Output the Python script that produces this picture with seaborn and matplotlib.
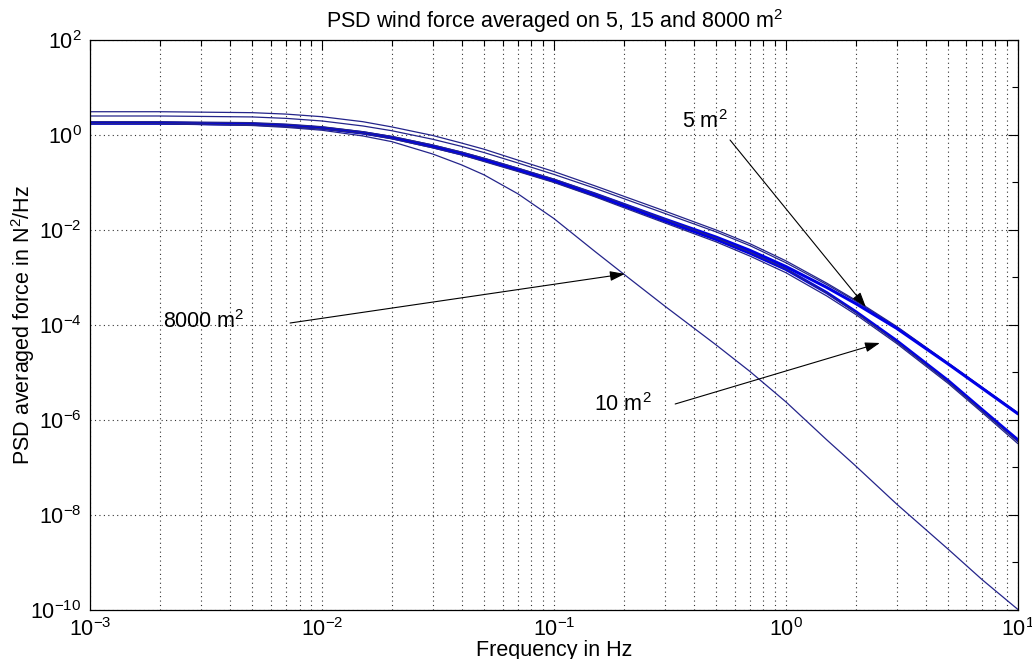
import numpy as np
import pandas as pd
import matplotlib
matplotlib.use('Agg')
import matplotlib.pyplot as plt
import matplotlib.ticker as mticker
import seaborn as sns

freq_hz = [0.001, 0.002, 0.005, 0.007, 0.01, 0.015, 0.02, 0.03, 0.04, 0.05, 0.07, 0.1,
           0.15, 0.2, 0.3, 0.5, 0.7, 1, 1.5, 2, 3, 5, 7, 10]

# log10 of PSD of the averaged force (N^2/Hz)
log_psd_5m2_a = [0.49, 0.49, 0.47, 0.44, 0.385, 0.28, 0.17, -0.01, -0.17, -0.30, -0.53, -0.77,
                 -1.07, -1.29, -1.60, -2.00, -2.29, -2.65, -3.12, -3.48, -4.03, -4.80, -5.31, -5.85]
log_psd_5m2_b = [0.40, 0.40, 0.38, 0.35, 0.295, 0.19, 0.09, -0.09, -0.24, -0.37, -0.59, -0.83,
                 -1.12, -1.34, -1.65, -2.04, -2.33, -2.69, -3.15, -3.50, -4.05, -4.81, -5.32, -5.86]
log_psd_5m2_c = [0.25, 0.25, 0.23, 0.20, 0.15, 0.05, -0.05, -0.23, -0.38, -0.51, -0.72, -0.95,
                 -1.24, -1.46, -1.77, -2.15, -2.43, -2.77, -3.21, -3.55, -4.07, -4.82, -5.33, -5.87]
log_psd_10m2_a = [0.25, 0.25, 0.225, 0.195, 0.14, 0.04, -0.06, -0.25, -0.40, -0.53, -0.74, -0.97,
                  -1.27, -1.49, -1.81, -2.20, -2.49, -2.83, -3.32, -3.72, -4.33, -5.17, -5.78, -6.42]
log_psd_10m2_b = [0.28, 0.28, 0.26, 0.23, 0.175, 0.07, -0.03, -0.21, -0.36, -0.49, -0.70, -0.93,
                  -1.23, -1.45, -1.77, -2.17, -2.47, -2.82, -3.33, -3.74, -4.36, -5.20, -5.81, -6.46]
log_psd_10m2_c = [0.24, 0.24, 0.215, 0.185, 0.13, 0.03, -0.08, -0.27, -0.42, -0.56, -0.77, -1.00,
                  -1.30, -1.53, -1.85, -2.25, -2.55, -2.90, -3.39, -3.78, -4.39, -5.23, -5.84, -6.50]
log_psd_8000m2 = [0.24, 0.24, 0.20, 0.16, 0.10, -0.02, -0.14, -0.40, -0.63, -0.84, -1.24, -1.76,
                  -2.45, -2.93, -3.60, -4.42, -4.98, -5.62, -6.42, -6.97, -7.77, -8.72, -9.36, -9.99]

curves = {
    '5a': log_psd_5m2_a, '5b': log_psd_5m2_b, '5c': log_psd_5m2_c,
    '10a': log_psd_10m2_a, '10b': log_psd_10m2_b, '10c': log_psd_10m2_c,
    '8000': log_psd_8000m2,
}
thick = {'5c', '10a'}

sns.set_style('white')
plt.rcParams['font.family'] = ['Liberation Sans', 'DejaVu Sans']
plt.rcParams['mathtext.fontset'] = 'custom'
plt.rcParams['mathtext.rm'] = 'Liberation Sans'
plt.rcParams['mathtext.it'] = 'Liberation Sans'
plt.rcParams['mathtext.default'] = 'regular'
plt.rcParams['axes.unicode_minus'] = False
for key in ['text.color', 'axes.labelcolor', 'xtick.color', 'ytick.color']:
    plt.rcParams[key] = 'black'

fig = plt.figure(figsize=(10.32, 6.59), dpi=100)
ax = fig.add_axes([0.0872, 0.0744, 0.8992, 0.8649])
ax.set(xscale='log', yscale='log')

for name, logs in curves.items():
    df = pd.DataFrame({'f': freq_hz, 'psd': 10.0 ** np.array(logs)})
    if name in thick:
        sns.lineplot(data=df, x='f', y='psd', ax=ax, color='#0000e6', linewidth=2.2, sort=False)
    else:
        sns.lineplot(data=df, x='f', y='psd', ax=ax, color='#24248a', linewidth=0.9, sort=False)

ax.set_xlim(1e-3, 1e1)
ax.set_ylim(1e-10, 1e2)

ax.set_yticks([10.0 ** k for k in range(-10, 3, 2)])
ax.set_yticks([10.0 ** k for k in range(-9, 2, 2)], minor=True)
ax.yaxis.set_minor_formatter(mticker.NullFormatter())
ax.xaxis.set_major_locator(mticker.LogLocator(base=10, numticks=10))
ax.xaxis.set_minor_locator(mticker.LogLocator(base=10, subs=np.arange(2, 10), numticks=20))
ax.xaxis.set_minor_formatter(mticker.NullFormatter())

ax.tick_params(which='both', direction='in', top=True, right=True, labelsize=15.5, width=0.8)
ax.tick_params(which='major', length=7, pad=6)
ax.tick_params(which='minor', length=4)

grid_kw = dict(color='#333333', linestyle=(0, (1, 3)), linewidth=0.8)
ax.grid(True, which='major', axis='both', **grid_kw)
ax.grid(True, which='minor', axis='x', **grid_kw)
for s in ax.spines.values():
    s.set_color('black')
    s.set_linewidth(0.9)

ax.set_title('PSD wind force averaged on 5, 15 and 8000 m$^2$', fontsize=15.5, pad=9)
ax.set_xlabel('Frequency in Hz', fontsize=15.5)
ax.set_ylabel('PSD averaged force in N$^2$/Hz', fontsize=15.5)
ax.xaxis.set_label_coords(0.5, -0.052)
ax.yaxis.set_label_coords(-0.057, 0.5)

arrow_kw = dict(arrowstyle='-|>,head_length=0.9,head_width=0.3', color='black', lw=0.8,
                shrinkA=0, shrinkB=0)
ax.annotate('', xy=(0.202, 1.19e-3), xytext=(0.00728, 1.1e-4), arrowprops=arrow_kw)
ax.text(0.0031, 1.16e-4, '8000 m$^2$', fontsize=15.5, ha='center', va='center')
ax.annotate('', xy=(2.54, 4.18e-5), xytext=(0.333, 2.17e-6), arrowprops=arrow_kw)
ax.text(0.198, 2.1e-6, '10 m$^2$', fontsize=15.5, ha='center', va='center')
ax.annotate('', xy=(2.21, 2.39e-4), xytext=(0.574, 0.785), arrowprops=arrow_kw)
ax.text(0.448, 1.88, '5 m$^2$', fontsize=15.5, ha='center', va='center')

fig.savefig('out.png', dpi=100)
